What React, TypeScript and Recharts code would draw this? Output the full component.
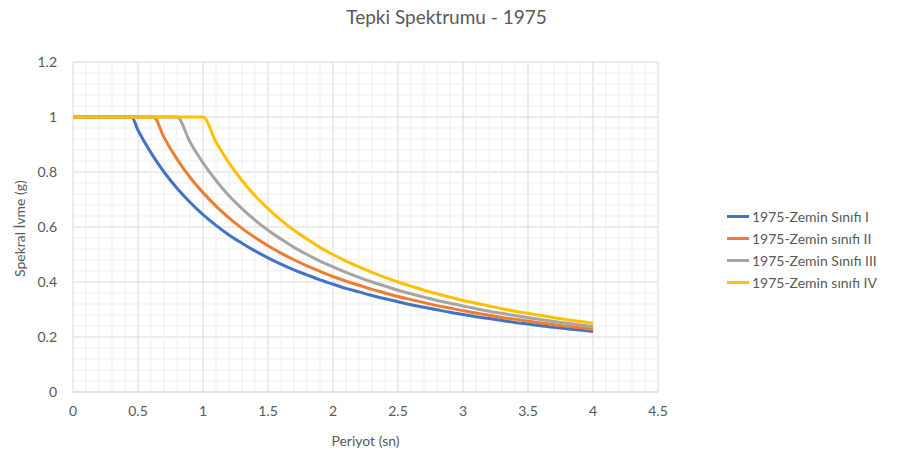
import {
  CartesianGrid,
  Line,
  LineChart,
  ReferenceLine,
  XAxis,
  YAxis,
} from 'recharts'

// Period (s) sample points
const periods = [
  0, 0.1, 0.2, 0.3, 0.4, 0.45, 0.5, 0.6, 0.62, 0.7, 0.8, 0.9, 1.0, 1.1, 1.2, 1.3, 1.4, 1.5, 1.6, 1.7,
  1.8, 1.9, 2.0, 2.1, 2.2, 2.3, 2.4, 2.5, 2.6, 2.7, 2.8, 2.9, 3.0, 3.1, 3.2, 3.3, 3.4, 3.5, 3.6,
  3.7, 3.8, 3.9, 4.0,
]

const zeminI = [
  1, 1, 1, 1, 1, 1, 0.952, 0.87, 0.855, 0.8, 0.741, 0.69, 0.645, 0.606, 0.571, 0.541, 0.513, 0.488,
  0.465, 0.444, 0.426, 0.408, 0.392, 0.377, 0.364, 0.351, 0.339, 0.328, 0.317, 0.308, 0.299, 0.29,
  0.282, 0.274, 0.267, 0.26, 0.253, 0.247, 0.241, 0.235, 0.23, 0.225, 0.22,
]
const zeminII = [
  1, 1, 1, 1, 1, 1, 1, 1, 1, 0.926, 0.847, 0.781, 0.725, 0.676, 0.633, 0.595, 0.562, 0.532, 0.505,
  0.481, 0.459, 0.439, 0.42, 0.403, 0.388, 0.373, 0.36, 0.347, 0.336, 0.325, 0.314, 0.305, 0.296,
  0.287, 0.279, 0.271, 0.265, 0.258, 0.251, 0.245, 0.239, 0.234, 0.228,
]
const zeminIII = [
  1, 1, 1, 1, 1, 1, 1, 1, 1, 1, 1, 0.909, 0.833, 0.769, 0.714, 0.667, 0.625, 0.588, 0.556, 0.526,
  0.5, 0.476, 0.455, 0.435, 0.417, 0.4, 0.385, 0.37, 0.357, 0.345, 0.333, 0.323, 0.313, 0.303,
  0.294, 0.286, 0.278, 0.27, 0.263, 0.256, 0.25, 0.244, 0.238,
]
const zeminIV = [
  1, 1, 1, 1, 1, 1, 1, 1, 1, 1, 1, 1, 1, 0.909, 0.833, 0.769, 0.714, 0.667, 0.625, 0.588, 0.556,
  0.526, 0.5, 0.476, 0.455, 0.435, 0.417, 0.4, 0.385, 0.37, 0.357, 0.345, 0.333, 0.323, 0.313,
  0.303, 0.294, 0.286, 0.278, 0.27, 0.263, 0.256, 0.25,
]

const xTicks = [0, 0.5, 1, 1.5, 2, 2.5, 3, 3.5, 4, 4.5]
const yTicks = [0, 0.2, 0.4, 0.6, 0.8, 1, 1.2]
const xMinor = [
  0.1, 0.2, 0.3, 0.4, 0.6, 0.7, 0.8, 0.9, 1.1, 1.2, 1.3, 1.4, 1.6, 1.7, 1.8, 1.9, 2.1, 2.2, 2.3,
  2.4, 2.6, 2.7, 2.8, 2.9, 3.1, 3.2, 3.3, 3.4, 3.6, 3.7, 3.8, 3.9, 4.1, 4.2, 4.3, 4.4,
]
const yMinor = [
  0.04, 0.08, 0.12, 0.16, 0.24, 0.28, 0.32, 0.36, 0.44, 0.48, 0.52, 0.56, 0.64, 0.68, 0.72, 0.76,
  0.84, 0.88, 0.92, 0.96, 1.04, 1.08, 1.12, 1.16,
]

const seriesList = [
  { key: 'z1', name: '1975-Zemin Sınıfı I', color: '#4472c4' },
  { key: 'z2', name: '1975-Zemin sınıfı II', color: '#ed7d31' },
  { key: 'z3', name: '1975-Zemin Sınıfı III', color: '#a5a5a5' },
  { key: 'z4', name: '1975-Zemin sınıfı IV', color: '#ffc000' },
]

const data = periods.map((t, i) => ({
  t,
  z1: zeminI[i],
  z2: zeminII[i],
  z3: zeminIII[i],
  z4: zeminIV[i],
}))

const textColor = '#595959'
const font = 'Lato, "Open Sans", sans-serif'

function LegendBox() {
  return (
    <div
      style={{
        position: 'absolute',
        left: 727,
        top: 205,
        fontFamily: font,
        fontSize: 14,
        color: textColor,
      }}
    >
      {seriesList.map((s) => (
        <div key={s.key} style={{ display: 'flex', alignItems: 'center', height: 22, whiteSpace: 'nowrap' }}>
          <span
            style={{ width: 22, height: 3, background: s.color, marginRight: 3, display: 'inline-block' }}
          />
          {s.name}
        </div>
      ))}
    </div>
  )
}

export default function App() {
  return (
    <div style={{ position: 'absolute', left: 0, top: 0, width: 899, height: 463, background: '#fff' }}>
      <div
        style={{
          position: 'absolute',
          left: 0,
          width: 893,
          top: 5,
          textAlign: 'center',
          fontFamily: font,
          fontSize: 19,
          color: textColor,
        }}
      >
        Tepki Spektrumu - 1975
      </div>
      <LineChart width={899} height={463} data={data} margin={{ top: 62, right: 241, bottom: 41, left: 33 }}>
        {xMinor.map((v) => (
          <ReferenceLine key={'x' + v} x={v} stroke="#efefef" strokeWidth={1} />
        ))}
        {yMinor.map((v) => (
          <ReferenceLine key={'y' + v} y={v} stroke="#efefef" strokeWidth={1} />
        ))}
        <CartesianGrid stroke="#d9d9d9" />
        <XAxis
          dataKey="t"
          type="number"
          domain={[0, 4.5]}
          ticks={xTicks}
          height={30}
          stroke="#d9d9d9"
          tickLine={false}
          tick={{ fill: textColor, fontSize: 14, fontFamily: font }}
          tickMargin={8}
          label={{ value: 'Periyot (sn)', position: 'insideBottom', offset: -24, fill: textColor, fontSize: 14, fontFamily: font }}
        />
        <YAxis
          type="number"
          domain={[0, 1.2]}
          ticks={yTicks}
          width={40}
          axisLine={false}
          tickLine={false}
          tick={{ fill: textColor, fontSize: 14, fontFamily: font }}
          tickMargin={10}
          label={{
            value: 'Spekral İvme (g)',
            angle: -90,
            position: 'insideLeft',
            offset: -13,
            dy: 50,
            fill: textColor,
            fontSize: 14,
            fontFamily: font,
          }}
        />
        {seriesList.map((s) => (
          <Line
            key={s.key}
            dataKey={s.key}
            name={s.name}
            type="monotone"
            stroke={s.color}
            strokeWidth={3}
            dot={false}
            isAnimationActive={false}
          />
        ))}
      </LineChart>
      <LegendBox />
    </div>
  )
}
